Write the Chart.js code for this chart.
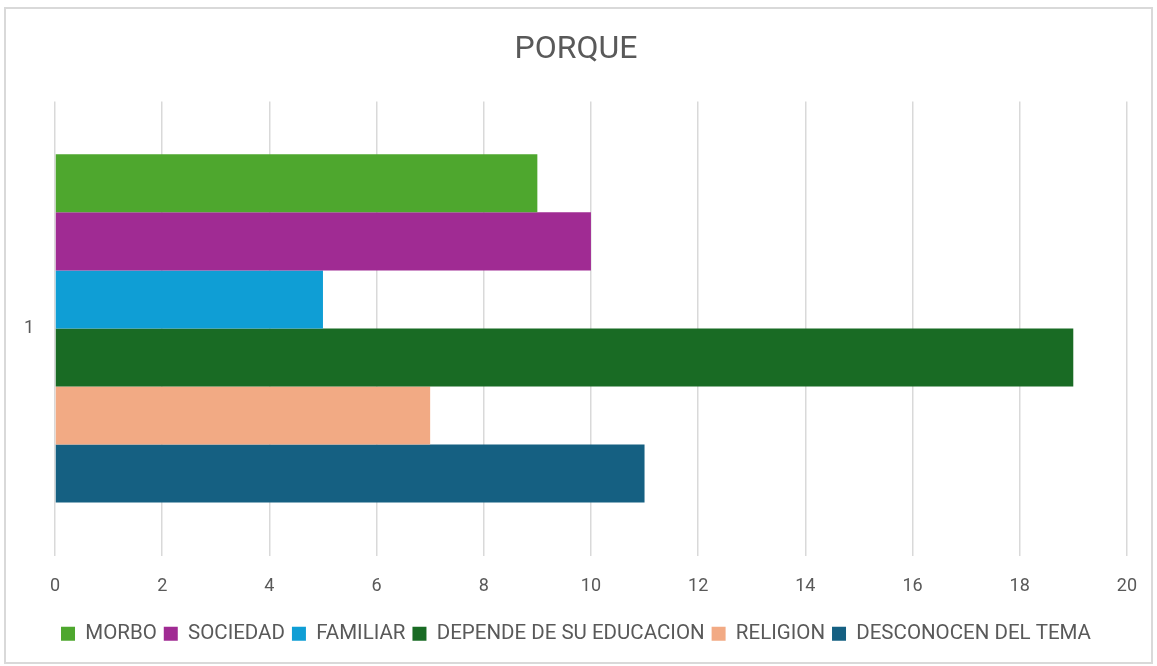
<!DOCTYPE html>
<html>
<head>
<meta charset="utf-8">
<script src="https://cdn.jsdelivr.net/npm/chart.js@4"></script>
<style>
  html, body { margin: 0; padding: 0; background: #fff; }
  #frame { position: absolute; left: 4px; top: 7px; width: 1145px; height: 653px; border: 2px solid #d9d9d9; }
  #wrap { position: absolute; left: 0; top: 0; width: 1157px; height: 666px; }
</style>
</head>
<body>
<div id="frame"></div>
<div id="wrap"><canvas id="chart"></canvas></div>
<script>
// data
const categories = ["1"];
const seriesNames = ["MORBO", "SOCIEDAD", "FAMILIAR", "DEPENDE DE SU EDUCACION", "RELIGION", "DESCONOCEN DEL TEMA"];
const seriesValues = [[9], [10], [5], [19], [7], [11]];
const seriesColors = ["#4ea72e", "#a02b93", "#0f9ed5", "#196b24", "#f2aa84", "#156082"];

const textColor = "#595959";
const fontFamily = "Roboto, 'Liberation Sans', sans-serif";

const ctx = document.getElementById("chart").getContext("2d");
new Chart(ctx, {
  type: "bar",
  data: {
    labels: categories,
    datasets: seriesNames.map((name, i) => ({
      label: name,
      data: seriesValues[i],
      backgroundColor: seriesColors[i],
      borderWidth: 0,
      categoryPercentage: 0.767,
      barPercentage: 1
    }))
  },
  options: {
    indexAxis: "y",
    responsive: true,
    maintainAspectRatio: false,
    animation: false,
    layout: { padding: { left: 25, right: 30, top: 0, bottom: 12 } },
    plugins: {
      title: {
        display: true,
        text: "PORQUE",
        color: textColor,
        font: { family: fontFamily, size: 32, weight: "normal" },
        padding: { top: 31, bottom: 32 }
      },
      legend: {
        position: "bottom",
        labels: {
          color: textColor,
          font: { family: fontFamily, size: 20.5 },
          boxWidth: 14,
          boxHeight: 14,
          padding: 7
        }
      },
      tooltip: { enabled: false }
    },
    scales: {
      x: {
        min: 0,
        max: 20,
        ticks: { stepSize: 2, color: textColor, font: { family: fontFamily, size: 18 }, padding: 20 },
        grid: { color: "#d9d9d9", lineWidth: 1.5, drawTicks: false },
        border: { display: false },
        afterFit: (s) => { s.height = 61; }
      },
      y: {
        ticks: { color: textColor, font: { family: fontFamily, size: 18 }, padding: 21 },
        grid: { display: false, drawTicks: false },
        border: { display: false },
        afterFit: (s) => { s.width = 30; }
      }
    }
  }
});
</script>
</body>
</html>
